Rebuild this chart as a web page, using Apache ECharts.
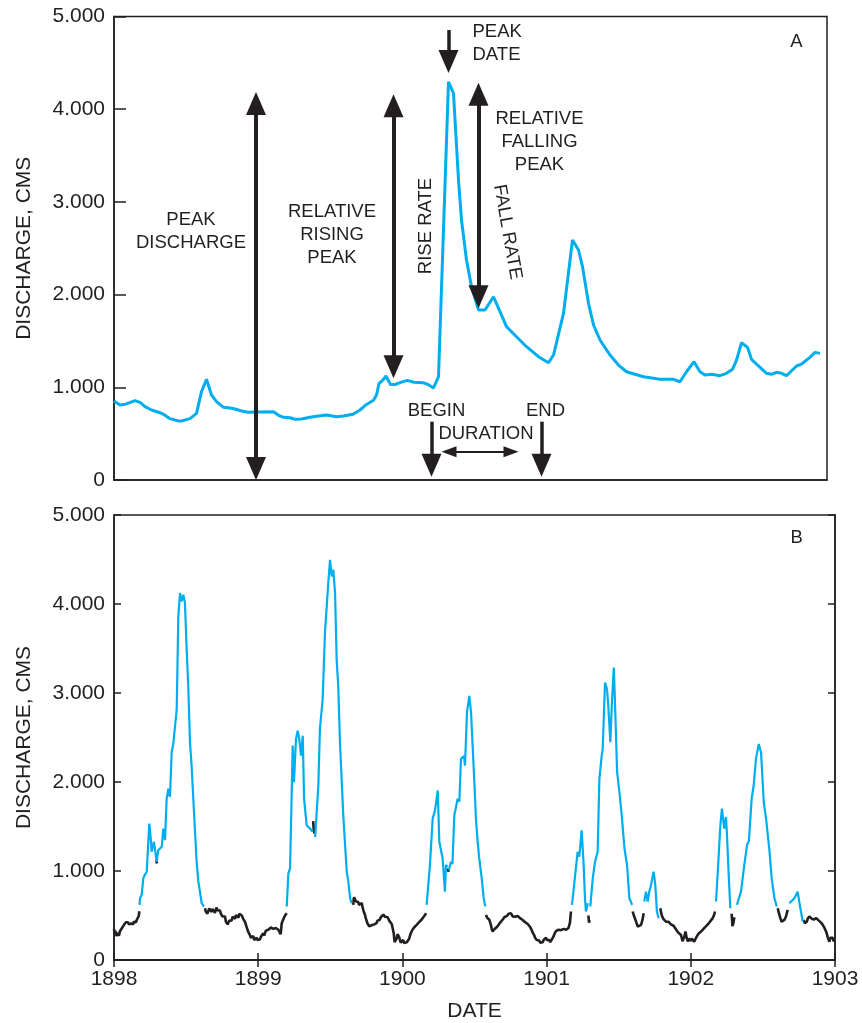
<!DOCTYPE html>
<html><head><meta charset="utf-8">
<script src="https://cdn.jsdelivr.net/npm/echarts@6/dist/echarts.min.js"></script>
<style>html,body{margin:0;padding:0;background:#fff}#c{width:862px;height:1023px}</style>
</head><body><div id="c"></div>
<script>
// ---------------- DATA ----------------
// Panel A: [day, discharge]
var panelA = [[0,852],[1.2,809],[2.2,816],[4.2,856],[5.2,838],[6.2,791],[7.5,755],[9.2,726],[9.9,709],[11.2,662],[12.9,636],[13.5,636],[15.2,662],[16.5,719],[17.5,953],[18.5,1086],[19.5,917],[20.5,845],[21.9,784],[23.2,777],[24.2,766],[25.5,744],[26.9,730],[28.5,733],[31.9,737],[32.9,698],[33.9,676],[35.2,672],[36.2,655],[37.5,658],[39.2,676],[40.5,687],[42.5,701],[44.5,683],[45.9,690],[47.8,709],[49.2,755],[50.5,815],[51.9,860],[52.5,917],[53.0,1040],[53.8,1080],[54.4,1122],[55.3,1030],[56.2,1030],[57.2,1050],[58.6,1075],[60.0,1055],[61.8,1050],[62.8,1030],[63.9,993],[64.9,1115],[66.9,4296],[67.9,4171],[68.9,3236],[69.5,2805],[70.5,2373],[71.5,2085],[72.9,1834],[74.2,1834],[75.9,1977],[77.2,1816],[78.5,1654],[80.5,1546],[82.5,1438],[84.9,1330],[86.9,1265],[87.9,1348],[89.9,1798],[91.7,2589],[92.9,2481],[93.7,2301],[94.9,1906],[95.9,1672],[97.2,1510],[99.2,1348],[100.9,1240],[102.5,1168],[105.9,1114],[109.2,1086],[111.9,1086],[113.2,1060],[114.5,1168],[116.0,1276],[117.2,1168],[118.2,1133],[119.5,1140],[121.2,1125],[122.5,1151],[123.7,1194],[124.5,1294],[125.5,1481],[126.7,1431],[127.5,1302],[128.9,1230],[130.5,1151],[131.5,1140],[132.5,1162],[133.5,1151],[134.5,1125],[136.5,1230],[137.5,1251],[139.2,1323],[140.2,1377],[141.2,1366]];
var panelADayMax = 142.6;

// Panel A annotation arrows (data coords): [x1,y1,x2,y2, heads, width, headSize]
var arrowsA = [
  [28.4,124,28.4,4061,'both',4,[20,23]],
  [55.9,1221,55.9,4036,'both',4,[20,23]],
  [66.9,4854,66.9,4514,'end',3.5,[20,23]],
  [72.9,1976,72.9,4162,'both',4,[20,23]],
  [63.5,629,63.5,160,'end',3.5,[20,23]],
  [85.5,629,85.5,160,'end',3.5,[20,23]],
  [67.0,305,79.4,305,'both',2,[11,15]]
];
// Panel A annotation texts: [text, day, value, rotationDeg, align]
var textsA = [
  ['PEAK\nDISCHARGE',15.4,2686,0,'center'],
  ['RELATIVE\nRISING\nPEAK',43.6,2643,0,'center'],
  ['RISE RATE',62.4,2740,90,'center'],
  ['PEAK\nDATE',71.7,4708,0,'left'],
  ['RELATIVE\nFALLING\nPEAK',85.1,3646,0,'center'],
  ['FALL RATE',78.7,2675,-80,'center'],
  ['BEGIN',64.5,748,0,'center'],
  ['END',86.3,748,0,'center'],
  ['DURATION',74.4,496,0,'center'],
  ['A',136.5,4725,0,'center']
];
var textsB = [['B',1902.734,4743,0,'center']];

// Panel B: [decimal year, discharge]; black = base flow, blue = event periods
var black1898a = [[1898.000,350],[1898.004,300],[1898.009,330],[1898.014,268],[1898.019,300],[1898.024,285],[1898.030,300],[1898.035,275],[1898.040,320],[1898.045,305],[1898.050,345],[1898.055,330],[1898.060,370],[1898.066,385],[1898.071,400],[1898.076,390],[1898.083,425],[1898.090,410],[1898.097,425],[1898.104,400],[1898.111,420],[1898.118,410],[1898.125,430],[1898.132,400],[1898.137,430],[1898.142,420],[1898.148,440],[1898.153,425],[1898.160,460],[1898.166,450],[1898.171,490],[1898.176,548]];
var black1898b = [[1898.293,1120],[1898.298,1085]];
var black1898c = [[1898.631,582],[1898.636,545],[1898.642,560],[1898.648,520],[1898.654,540],[1898.660,580],[1898.665,560],[1898.671,590],[1898.677,540],[1898.683,575],[1898.689,560],[1898.695,580],[1898.700,530],[1898.706,565],[1898.712,590],[1898.717,560],[1898.723,575],[1898.729,540],[1898.735,555],[1898.741,520],[1898.747,530],[1898.752,490],[1898.758,505],[1898.764,470],[1898.770,489],[1898.776,430],[1898.782,445],[1898.788,400],[1898.793,420],[1898.799,440],[1898.805,425],[1898.810,460],[1898.816,445],[1898.822,485],[1898.828,470],[1898.834,490],[1898.840,465],[1898.846,505],[1898.851,490],[1898.857,510],[1898.863,475],[1898.869,520],[1898.874,505],[1898.880,525],[1898.886,500],[1898.891,490],[1898.897,460],[1898.903,455],[1898.908,430],[1898.914,400],[1898.920,370],[1898.926,340],[1898.931,315],[1898.937,300],[1898.943,280],[1898.949,250],[1898.954,265],[1898.960,240],[1898.966,270],[1898.972,225],[1898.978,240],[1898.984,215],[1898.990,250],[1898.995,225],[1899.001,205],[1899.007,235],[1899.012,230],[1899.018,260],[1899.024,245],[1899.030,280],[1899.036,300],[1899.041,275],[1899.047,300],[1899.053,330],[1899.059,315],[1899.064,350],[1899.070,340],[1899.076,360],[1899.082,335],[1899.088,365],[1899.094,350],[1899.100,370],[1899.105,350],[1899.111,365],[1899.117,335],[1899.122,360],[1899.128,350],[1899.134,365],[1899.140,340],[1899.146,360],[1899.151,350],[1899.155,290],[1899.158,320],[1899.163,414],[1899.169,430],[1899.175,460],[1899.180,470],[1899.186,500],[1899.192,490],[1899.198,526]];
var black1899a = [[1899.381,1560],[1899.386,1450],[1899.392,1420]];
var black1899b = [[1899.659,619],[1899.662,680],[1899.665,705],[1899.671,690],[1899.677,660],[1899.683,640],[1899.688,665],[1899.694,650],[1899.700,620],[1899.706,640],[1899.712,610],[1899.718,640],[1899.723,600],[1899.729,560],[1899.735,530],[1899.741,505],[1899.746,470],[1899.752,440],[1899.758,410],[1899.764,395],[1899.770,380],[1899.776,395],[1899.781,380],[1899.787,390],[1899.793,375],[1899.798,385],[1899.804,400],[1899.810,395],[1899.815,420],[1899.821,415],[1899.827,440],[1899.833,430],[1899.839,460],[1899.844,455],[1899.850,480],[1899.856,475],[1899.862,500],[1899.868,510],[1899.874,495],[1899.880,485],[1899.886,505],[1899.893,500],[1899.898,480],[1899.903,465],[1899.909,440],[1899.914,430],[1899.920,425],[1899.926,405],[1899.932,410],[1899.937,390],[1899.940,300],[1899.943,250],[1899.946,200],[1899.949,185],[1899.955,210],[1899.960,240],[1899.966,290],[1899.972,305],[1899.977,260],[1899.983,225],[1899.989,195],[1899.995,190],[1900.000,215],[1900.006,225],[1900.012,190],[1900.018,170],[1900.024,210],[1900.030,200],[1900.036,220],[1900.041,205],[1900.047,240],[1900.053,275],[1900.058,300],[1900.064,320],[1900.070,340],[1900.076,350],[1900.081,365],[1900.087,375],[1900.093,385],[1900.099,395],[1900.105,410],[1900.110,405],[1900.116,425],[1900.122,435],[1900.128,445],[1900.134,455],[1900.140,470],[1900.145,480],[1900.150,490],[1900.157,505],[1900.164,526]];
var black1900a = [[1900.316,1030],[1900.320,990]];
var black1900b = [[1900.580,507],[1900.586,480],[1900.592,470],[1900.597,460],[1900.603,450],[1900.609,420],[1900.615,385],[1900.620,345],[1900.626,320],[1900.632,330],[1900.638,345],[1900.643,350],[1900.649,365],[1900.655,370],[1900.661,380],[1900.667,395],[1900.672,410],[1900.678,420],[1900.684,440],[1900.690,435],[1900.696,455],[1900.702,470],[1900.707,480],[1900.713,490],[1900.719,500],[1900.725,495],[1900.730,510],[1900.736,520],[1900.742,530],[1900.748,515],[1900.753,525],[1900.759,505],[1900.765,490],[1900.771,480],[1900.776,470],[1900.782,485],[1900.788,500],[1900.793,490],[1900.799,495],[1900.804,485],[1900.810,480],[1900.816,470],[1900.822,465],[1900.828,455],[1900.834,450],[1900.840,440],[1900.846,430],[1900.851,425],[1900.857,420],[1900.863,410],[1900.869,405],[1900.875,390],[1900.880,385],[1900.886,370],[1900.892,360],[1900.897,335],[1900.903,310],[1900.909,290],[1900.915,275],[1900.920,250],[1900.926,240],[1900.932,225],[1900.938,230],[1900.944,205],[1900.949,220],[1900.955,195],[1900.961,215],[1900.967,180],[1900.973,200],[1900.979,225],[1900.985,240],[1900.990,230],[1900.996,250],[1901.002,225],[1901.008,240],[1901.013,215],[1901.019,225],[1901.025,200],[1901.031,210],[1901.036,230],[1901.042,250],[1901.048,265],[1901.054,290],[1901.059,310],[1901.065,325],[1901.071,335],[1901.077,330],[1901.083,340],[1901.089,335],[1901.094,345],[1901.100,335],[1901.106,345],[1901.112,340],[1901.118,350],[1901.123,340],[1901.129,345],[1901.135,340],[1901.141,355],[1901.146,350],[1901.152,360],[1901.157,355],[1901.162,420],[1901.169,545]];
var black1901a = [[1901.290,500],[1901.294,420],[1901.298,450]];
var black1901b = [[1901.597,545],[1901.605,500],[1901.613,489],[1901.623,420],[1901.632,376],[1901.643,390],[1901.655,395],[1901.665,450],[1901.673,526]];
var black1901c = [[1901.789,582],[1901.793,540],[1901.797,520],[1901.801,490],[1901.805,470],[1901.811,460],[1901.817,450],[1901.822,440],[1901.828,430],[1901.834,440],[1901.840,420],[1901.845,430],[1901.851,410],[1901.856,415],[1901.862,400],[1901.868,395],[1901.874,380],[1901.880,385],[1901.886,370],[1901.891,360],[1901.897,345],[1901.903,330],[1901.909,320],[1901.914,305],[1901.920,295],[1901.926,290],[1901.932,280],[1901.937,250],[1901.942,210],[1901.947,190],[1901.951,200],[1901.955,260],[1901.959,290],[1901.963,320],[1901.967,300],[1901.971,250],[1901.975,230],[1901.979,210],[1901.983,205],[1901.988,240],[1901.992,260],[1901.997,230],[1902.001,215],[1902.006,240],[1902.012,245],[1902.018,220],[1902.024,205],[1902.030,230],[1902.036,250],[1902.042,265],[1902.048,285],[1902.053,295],[1902.059,300],[1902.065,315],[1902.071,320],[1902.076,330],[1902.082,340],[1902.088,350],[1902.094,360],[1902.100,370],[1902.106,380],[1902.111,390],[1902.117,395],[1902.123,410],[1902.129,420],[1902.135,430],[1902.140,445],[1902.146,460],[1902.152,470],[1902.160,500],[1902.168,545]];
var black1902a = [[1902.283,520],[1902.289,380],[1902.296,420],[1902.302,480]];
var black1902b = [[1902.603,582],[1902.612,520],[1902.621,470],[1902.630,430],[1902.638,414],[1902.649,450],[1902.660,489],[1902.672,563]];
var black1902c = [[1902.783,451],[1902.787,430],[1902.791,415],[1902.795,400],[1902.799,395],[1902.805,430],[1902.811,465],[1902.816,480],[1902.822,490],[1902.828,470],[1902.833,485],[1902.838,465],[1902.844,460],[1902.849,450],[1902.853,455],[1902.859,470],[1902.865,460],[1902.870,470],[1902.876,455],[1902.881,460],[1902.886,445],[1902.892,440],[1902.897,430],[1902.903,420],[1902.909,410],[1902.915,395],[1902.921,375],[1902.927,360],[1902.932,340],[1902.938,320],[1902.944,290],[1902.950,255],[1902.955,230],[1902.961,205],[1902.967,250],[1902.972,270],[1902.978,240],[1902.984,250],[1902.988,215],[1902.992,200],[1902.996,230],[1903.000,220]];

var blue1898 = [[1898.178,619],[1898.180,694],[1898.192,730],[1898.203,917],[1898.215,960],[1898.227,992],[1898.238,1328],[1898.245,1532],[1898.253,1400],[1898.261,1216],[1898.269,1280],[1898.277,1328],[1898.286,1340],[1898.296,1104],[1898.307,1234],[1898.319,1250],[1898.331,1272],[1898.342,1477],[1898.354,1346],[1898.365,1812],[1898.377,1924],[1898.388,1831],[1898.400,2335],[1898.411,2427],[1898.423,2420],[1898.435,2819],[1898.446,3863],[1898.458,4124],[1898.469,4030],[1898.481,4105],[1898.492,4012],[1898.504,3490],[1898.515,3080],[1898.527,2446],[1898.538,2185],[1898.550,1812],[1898.562,1440],[1898.573,1104],[1898.585,880],[1898.596,768],[1898.608,638],[1898.624,601]];
var blue1899a = [[1899.198,601],[1899.209,973],[1899.221,1029],[1899.230,1700],[1899.239,2409],[1899.248,1999],[1899.262,2483],[1899.274,2576],[1899.285,2483],[1899.297,2297],[1899.309,2520],[1899.318,1812],[1899.336,1514],[1899.359,1477],[1899.378,1440]];
var blue1899b = [[1899.395,1380],[1899.401,1365],[1899.417,1961],[1899.428,2595],[1899.447,2931],[1899.463,3677],[1899.486,4236],[1899.498,4497],[1899.510,4310],[1899.521,4385],[1899.533,4124],[1899.544,3378],[1899.555,3080],[1899.567,2446],[1899.590,1625],[1899.614,992],[1899.625,880],[1899.637,694],[1899.648,638]];
var blue1900a = [[1900.168,619],[1900.191,1066],[1900.210,1588],[1900.226,1681],[1900.245,1905],[1900.256,1328],[1900.279,1141],[1900.295,768],[1900.302,1066],[1900.314,1048]];
var blue1900b = [[1900.322,1010],[1900.337,1104],[1900.347,1080],[1900.360,1625],[1900.383,1812],[1900.395,1780],[1900.406,2260],[1900.427,2290],[1900.434,2185],[1900.448,2782],[1900.464,2968],[1900.476,2782],[1900.487,2409],[1900.499,1999],[1900.510,1588],[1900.522,1328],[1900.533,1141],[1900.550,917],[1900.564,694],[1900.575,601]];
var blue1901a = [[1901.176,619],[1901.192,861],[1901.215,1216],[1901.227,1160],[1901.243,1458],[1901.257,1066],[1901.266,694],[1901.273,545],[1901.285,638]];
var blue1901b = [[1901.303,601],[1901.320,917],[1901.336,1104],[1901.354,1216],[1901.366,2036],[1901.382,2297],[1901.389,2371],[1901.405,3117],[1901.419,3043],[1901.428,2850],[1901.442,2446],[1901.452,2856],[1901.466,3285],[1901.475,2856],[1901.489,2110],[1901.505,1887],[1901.521,1625],[1901.540,1253],[1901.558,1066],[1901.574,694],[1901.593,619]];
var blue1901c = [[1901.677,657],[1901.689,768],[1901.701,657],[1901.712,768],[1901.724,842],[1901.742,992],[1901.754,842],[1901.765,545],[1901.777,470]];
var blue1902a = [[1902.175,657],[1902.191,1104],[1902.205,1514],[1902.216,1700],[1902.232,1477],[1902.244,1607],[1902.251,1400],[1902.263,954],[1902.274,582]];
var blue1902b = [[1902.320,619],[1902.348,768],[1902.371,1066],[1902.390,1290],[1902.403,1340],[1902.422,1812],[1902.436,1961],[1902.452,2260],[1902.471,2427],[1902.487,2335],[1902.506,1775],[1902.522,1588],[1902.545,1234],[1902.561,917],[1902.580,694],[1902.596,601]];
var blue1902c = [[1902.683,638],[1902.695,620],[1902.718,694],[1902.741,768],[1902.752,657],[1902.764,545],[1902.776,433]];

var blackSegs = [black1898a,black1898b,black1898c,black1899a,black1899b,black1900a,black1900b,black1901a,black1901b,black1901c,black1902a,black1902b,black1902c];
var blueSegs = [blue1898,blue1899a,blue1899b,blue1900a,blue1900b,blue1901a,blue1901b,blue1901c,blue1902a,blue1902b,blue1902c];

var yTicks = {min:0, max:5000, interval:1000};
var yearTicks = {min:1898, max:1903, interval:1};

// ---------------- CHART ----------------
var INK = '#231f20', BLUE = '#00aeef', FONT = 'Liberation Sans, Arial, Helvetica, sans-serif';
function yFmt(v){ return v === 0 ? '0' : (v/1000).toFixed(3); }
var chart = echarts.init(document.getElementById('c'), null, {renderer:'canvas'});

var markData = arrowsA.map(function(a){
  var hs = a[6];
  return [
    {coord:[a[0],a[1]], symbol: a[4]==='both' ? 'triangle' : 'none', symbolSize: hs, lineStyle:{width:a[5], color:INK, type:'solid'}},
    {coord:[a[2],a[3]], symbol:'triangle', symbolSize: hs}
  ];
});

var series = [{
  type:'line', xAxisIndex:0, yAxisIndex:0, data:panelA, showSymbol:false, symbol:'none',
  lineStyle:{color:BLUE, width:3}, silent:true, z:3,
  markLine:{silent:true, animation:false, label:{show:false}, itemStyle:{color:INK},
    lineStyle:{color:INK, type:'solid'}, emphasis:{disabled:true}, data:markData}
}];
blackSegs.forEach(function(s){
  series.push({type:'line', xAxisIndex:1, yAxisIndex:1, data:s, showSymbol:false, symbol:'none',
    lineStyle:{color:INK, width:2.6}, silent:true, z:2});
});
blueSegs.forEach(function(s){
  series.push({type:'line', xAxisIndex:1, yAxisIndex:1, data:s, showSymbol:false, symbol:'none',
    lineStyle:{color:BLUE, width:2.2}, silent:true, z:3});
});

var axisLine = {show:true, lineStyle:{color:INK, width:1.5}};
var labelStyle = {color:INK, fontSize:21, fontFamily:FONT};
var nameStyle = {color:INK, fontSize:21, fontFamily:FONT};

var option = {
  animation:false,
  backgroundColor:'#fff',
  textStyle:{fontFamily:FONT},
  grid:[
    {left:114, right:35, top:16.5, bottom:543, show:true, borderColor:INK, borderWidth:1.5, containLabel:false},
    {left:114, right:27, top:515, bottom:61, show:true, borderColor:INK, borderWidth:1.5, containLabel:false}
  ],
  xAxis:[
    {gridIndex:0, type:'value', min:0, max:panelADayMax, axisLine:axisLine, axisTick:{show:false}, axisLabel:{show:false}, splitLine:{show:false}},
    {gridIndex:1, type:'value', min:yearTicks.min, max:yearTicks.max, interval:yearTicks.interval, position:'bottom',
      axisLine:axisLine, axisTick:{show:true, inside:true, length:7, lineStyle:{color:INK, width:1.5}},
      axisLabel:Object.assign({margin:9, formatter:function(v){return String(v);}}, labelStyle),
      splitLine:{show:false}, name:'DATE', nameLocation:'middle', nameGap:41, nameTextStyle:nameStyle},
    {gridIndex:1, type:'value', min:yearTicks.min, max:yearTicks.max, interval:yearTicks.interval, position:'top',
      axisLine:axisLine, axisTick:{show:true, inside:true, length:7, lineStyle:{color:INK, width:1.5}},
      axisLabel:{show:false}, splitLine:{show:false}}
  ],
  yAxis:[
    {gridIndex:0, type:'value', min:yTicks.min, max:yTicks.max, interval:yTicks.interval,
      axisLine:axisLine, axisTick:{show:true, inside:true, length:12, lineStyle:{color:INK, width:1.5}},
      axisLabel:Object.assign({margin:9, formatter:yFmt}, labelStyle), splitLine:{show:false},
      name:'DISCHARGE, CMS', nameLocation:'middle', nameGap:79, nameTextStyle:nameStyle},
    {gridIndex:1, type:'value', min:yTicks.min, max:yTicks.max, interval:yTicks.interval, position:'left',
      axisLine:axisLine, axisTick:{show:true, inside:true, length:7, lineStyle:{color:INK, width:1.5}},
      axisLabel:Object.assign({margin:9, formatter:yFmt}, labelStyle), splitLine:{show:false},
      name:'DISCHARGE, CMS', nameLocation:'middle', nameGap:79, nameTextStyle:nameStyle},
    {gridIndex:1, type:'value', min:yTicks.min, max:yTicks.max, interval:yTicks.interval, position:'right',
      axisLine:axisLine, axisTick:{show:true, inside:true, length:7, lineStyle:{color:INK, width:1.5}},
      axisLabel:{show:false}, splitLine:{show:false}}
  ],
  series:series
};
chart.setOption(option);

function makeTexts(list, gridIndex){
  return list.map(function(t){
    var p = chart.convertToPixel({gridIndex:gridIndex}, [t[1], t[2]]);
    return {type:'text', x:p[0], y:p[1], rotation:t[3]*Math.PI/180, silent:true, z:10,
      style:{text:t[0], fill:INK, font:'18.5px ' + FONT, lineHeight:23,
        align:t[4], verticalAlign:'middle', textAlign:t[4], textVerticalAlign:'middle'}};
  });
}
chart.setOption({graphic:makeTexts(textsA,0).concat(makeTexts(textsB,1))});
</script></body></html>
